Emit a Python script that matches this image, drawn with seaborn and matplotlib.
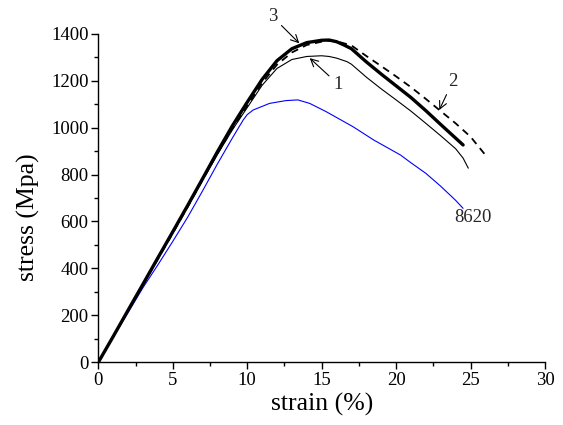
# stress-strain curves, samples 1-3 vs 8620
import matplotlib
matplotlib.use('Agg')
import matplotlib.pyplot as plt
import seaborn as sns
import numpy as np
from matplotlib.ticker import MultipleLocator

# (strain %, stress MPa)
strain_1 = [0, 1, 2, 3, 4, 5, 6, 7, 8, 9, 10, 11, 12, 13, 14, 15, 15.5, 16, 16.7, 17, 18, 19, 20, 21, 22, 23, 24, 24.5, 24.85]
stress_1 = [0, 110, 220, 330, 440, 550, 662, 775, 885, 990, 1085, 1180, 1252, 1290, 1303, 1306, 1303, 1296, 1281, 1270, 1215, 1165, 1118, 1070, 1018, 965, 910, 870, 827]

strain_2 = [0, 1, 2, 3, 4, 5, 6, 7, 8, 9, 10, 11, 12, 13, 14, 15, 15.5, 16, 17, 18, 19, 20, 21, 22, 23, 24, 25, 26]
stress_2 = [0, 110, 220, 330, 440, 550, 662, 777, 890, 995, 1092, 1190, 1268, 1320, 1352, 1366, 1370, 1368, 1350, 1305, 1262, 1218, 1172, 1122, 1070, 1018, 961, 883]

strain_3 = [0, 1, 2, 3, 4, 5, 6, 7, 8, 9, 10, 11, 12, 13, 14, 15, 15.5, 16, 16.5, 17, 18, 19, 20, 21, 22, 23, 24, 24.5]
stress_3 = [0, 110, 222, 333, 445, 556, 668, 782, 897, 1007, 1108, 1205, 1285, 1336, 1362, 1372, 1373, 1366, 1352, 1336, 1280, 1228, 1178, 1128, 1072, 1013, 955, 926]

strain_8620 = [0, 1, 2, 3, 4, 5, 6, 7, 8, 8.5, 9, 9.5, 9.75, 10.0, 10.4, 11.5, 12.6, 13.4, 14.2, 15.3, 16.2, 17.1, 18.5, 20.3, 21, 22, 23, 24, 24.5]
stress_8620 = [0, 108, 212, 318, 415, 515, 618, 730, 845, 900, 955, 1008, 1034, 1055, 1075, 1103, 1115, 1118, 1103, 1068, 1036, 1004, 947, 883, 850, 805, 750, 690, 656]

sns.set_theme(style='ticks')
plt.rcParams['font.family'] = ['Liberation Serif', 'DejaVu Serif']

fig = plt.figure(figsize=(5.63, 4.25), dpi=100)
ax = fig.add_axes([0.1746, 0.1475, 0.7934, 0.7732])

sns.lineplot(x=strain_8620, y=stress_8620, ax=ax, color='#0000ff', lw=0.8, sort=False, estimator=None)
sns.lineplot(x=strain_1, y=stress_1, ax=ax, color='black', lw=0.8, sort=False, estimator=None)
sns.lineplot(x=strain_2, y=stress_2, ax=ax, color='black', lw=1.3, ls=(0, (4, 3)), sort=False, estimator=None)
sns.lineplot(x=strain_3, y=stress_3, ax=ax, color='black', lw=2.4, sort=False, estimator=None)

ax.set_xlim(0, 30)
ax.set_ylim(0, 1400)
ax.xaxis.set_major_locator(MultipleLocator(5))
ax.xaxis.set_minor_locator(MultipleLocator(2.5))
ax.yaxis.set_major_locator(MultipleLocator(200))
ax.yaxis.set_minor_locator(MultipleLocator(100))
ax.tick_params(which='major', direction='out', length=5, width=1, labelsize=13.5, colors='black', pad=2)
ax.tick_params(which='minor', direction='out', length=3, width=1, colors='black')
sns.despine(ax=ax)
for s in ['left', 'bottom']:
    ax.spines[s].set_color('black')
    ax.spines[s].set_linewidth(1)

ax.set_xlabel('strain (%)', fontsize=18.5, color='black', labelpad=3)
ax.set_ylabel('stress (Mpa)', fontsize=18.5, color='black')
ax.yaxis.set_label_coords(-0.13, 0.442)

arr = dict(arrowstyle='->', color='black', lw=0.8, shrinkA=1, shrinkB=0)
ax.annotate('3', xy=(13.5, 1359), xytext=(11.7, 1473), fontsize=13.5, ha='center', va='center',
            arrowprops=arr, annotation_clip=False)
ax.annotate('1', xy=(14.2, 1296), xytext=(16.1, 1185), fontsize=13.5, ha='center', va='center',
            arrowprops=arr)
ax.annotate('2', xy=(22.9, 1075), xytext=(23.8, 1196), fontsize=13.5, ha='center', va='center',
            arrowprops=arr)
ax.text(23.9, 615, '8620', fontsize=13.5, ha='left', va='center')

fig.savefig('out.png', dpi=100)
